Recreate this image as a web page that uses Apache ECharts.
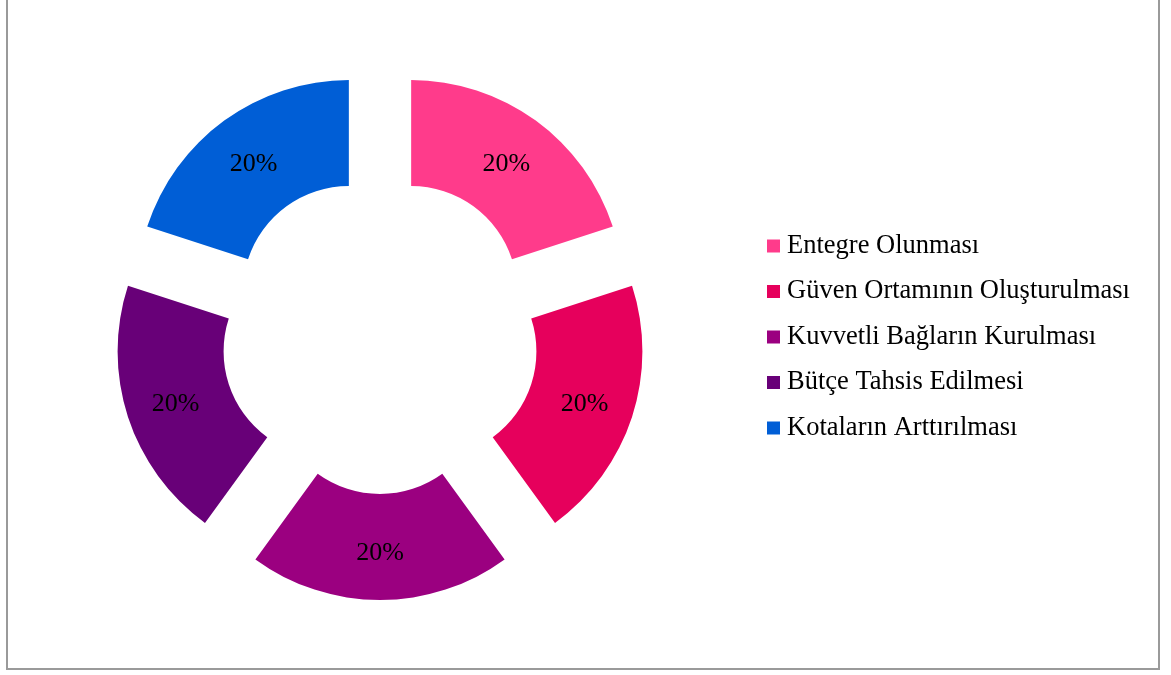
<!DOCTYPE html>
<html>
<head>
<meta charset="utf-8">
<script src="https://cdn.jsdelivr.net/npm/echarts@6/dist/echarts.min.js"></script>
<style>
  html, body { margin: 0; padding: 0; background: #fff; }
  #frame { position: absolute; left: 6px; top: -2px; width: 1154px; height: 672px; border: 2px solid #9a9a9a; box-sizing: border-box; }
  #chart { position: absolute; left: 0; top: 0; width: 1171px; height: 675px; }
</style>
</head>
<body>
<div id="frame"></div>
<div id="chart"></div>
<script>
const categories = ['Entegre Olunması', 'Güven Ortamının Oluşturulması', 'Kuvvetli Bağların Kurulması', 'Bütçe Tahsis Edilmesi', 'Kotaların Arttırılması'];
const values = [20, 20, 20, 20, 20];
const colors = ['#FF3B8B', '#E6005C', '#9B0080', '#680078', '#005ED6'];

const chart = echarts.init(document.getElementById('chart'), null, { renderer: 'canvas' });
const serif = '"Liberation Serif", "Times New Roman", serif';
chart.setOption({
  animation: false,
  legend: {
    orient: 'vertical',
    left: 767,
    top: 232.5,
    padding: 0,
    itemWidth: 13,
    itemHeight: 13,
    itemGap: 18.5,
    icon: 'rect',
    selectedMode: false,
    textStyle: { fontFamily: serif, fontSize: 26.5, color: '#000', lineHeight: 27, padding: [0, 0, 0, 2] },
    data: categories
  },
  series: [{
    type: 'pie',
    center: [380, 335],
    radius: [106, 212],
    startAngle: 90,
    clockwise: true,
    selectedMode: 'multiple',
    selectedOffset: 53,
    avoidLabelOverlap: false,
    emphasis: { disabled: true },
    label: {
      show: true,
      position: 'inside',
      formatter: '{d}%',
      fontFamily: serif,
      fontSize: 26,
      color: '#000'
    },
    labelLayout: { dy: 3 },
    labelLine: { show: false },
    data: categories.map((name, i) => ({
      name,
      value: values[i],
      selected: true,
      itemStyle: { color: colors[i] },
      select: { itemStyle: { color: colors[i], borderWidth: 0 } }
    }))
  }]
});
</script>
</body>
</html>
